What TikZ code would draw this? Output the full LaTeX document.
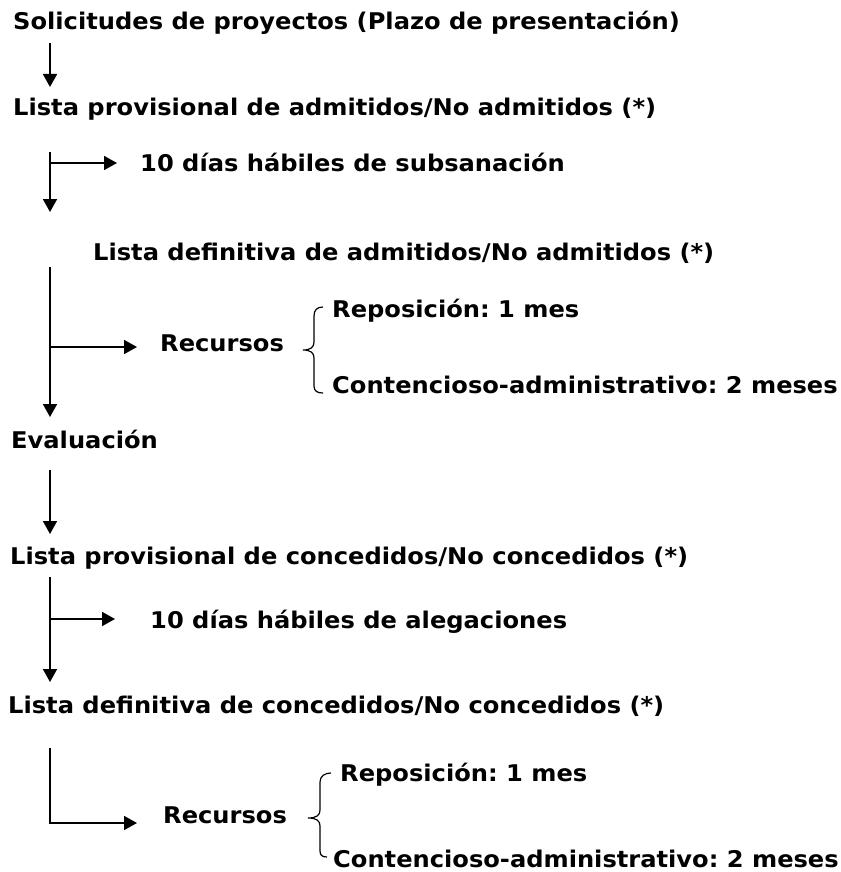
\documentclass[tikz,border=0pt]{standalone}
\usepackage{fontspec}
\setmainfont{DejaVu Sans}[FakeStretch=1.05]
\usetikzlibrary{arrows.meta}
\frenchspacing
\tikzset{
  txt/.style={anchor=base west, inner sep=0pt, font=\fontsize{23}{26}\selectfont\bfseries\frenchspacing},
  arr/.style={line width=1.8pt, -{Triangle[length=13pt,width=14pt]}},
  brace/.style={line width=1.2pt},
}
\begin{document}
\begin{tikzpicture}[x=1pt,y=-1pt]
\useasboundingbox (0,0) rectangle (840,872);
% texts
\node[txt] (t1) at (13,30) {Solicitudes de proyectos (Plazo de presentación)};
\node[txt] (t2) at (13,116) {Lista provisional de admitidos/No admitidos (*)};
\node[txt] (t3) at (140,171) {10 días hábiles de subsanación};
\node[txt] (t4) at (93,260) {Lista definitiva de admitidos/No admitidos (*)};
\node[txt] (t5) at (160,351) {Recursos};
\node[txt] (t6) at (332,317) {Reposición: 1 mes};
\node[txt] (t7) at (332,393) {Contencioso-administrativo: 2 meses};
\node[txt] (t8) at (11,448) {Evaluación};
\node[txt] (t9) at (10,564) {Lista provisional de concedidos/No concedidos (*)};
\node[txt] (t10) at (150,628) {10 días hábiles de alegaciones};
\node[txt] (t11) at (8,713) {Lista definitiva de concedidos/No concedidos (*)};
\node[txt] (t12) at (163,823) {Recursos};
\node[txt] (t13) at (340,781) {Reposición: 1 mes};
\node[txt] (t14) at (333,867) {Contencioso-administrativo: 2 meses};
% connector points
\coordinate (a1s) at (50,43);  \coordinate (a1e) at (50,87);
\coordinate (a2s) at (50,152); \coordinate (a2e) at (50,212);
\coordinate (b2s) at (50,163); \coordinate (b2e) at (117,163);
\coordinate (a3s) at (50,267); \coordinate (a3e) at (50,417);
\coordinate (b3s) at (50,347); \coordinate (b3e) at (137,347);
\coordinate (a4s) at (50,470); \coordinate (a4e) at (50,534);
\coordinate (a5s) at (50,577); \coordinate (a5e) at (50,682);
\coordinate (b5s) at (50,619); \coordinate (b5e) at (115,619);
\coordinate (a6s) at (50,748); \coordinate (a6c) at (50,823); \coordinate (a6e) at (137,823);
% arrows
\draw[arr] (a1s) -- (a1e);
\draw[arr] (a2s) -- (a2e);
\draw[arr] (b2s) -- (b2e);
\draw[arr] (a3s) -- (a3e);
\draw[arr] (b3s) -- (b3e);
\draw[arr] (a4s) -- (a4e);
\draw[arr] (a5s) -- (a5e);
\draw[arr] (b5s) -- (b5e);
\draw[arr] (a6s) -- (a6c) -- (a6e);
% braces
\draw[brace] (323,307) .. controls (317,307) and (314,310) .. (314,316) -- (314,342)
  .. controls (314,347) and (311,350) .. (303,350)
  .. controls (311,350) and (314,353) .. (314,358) -- (314,386)
  .. controls (314,391) and (317,393) .. (323,393);
\draw[brace] (331,773) .. controls (325,773) and (320,776) .. (320,782) -- (320,810)
  .. controls (320,815) and (317,818) .. (308,818)
  .. controls (317,818) and (320,821) .. (320,826) -- (320,851)
  .. controls (320,855) and (322,857) .. (327,857);
\end{tikzpicture}
\end{document}
